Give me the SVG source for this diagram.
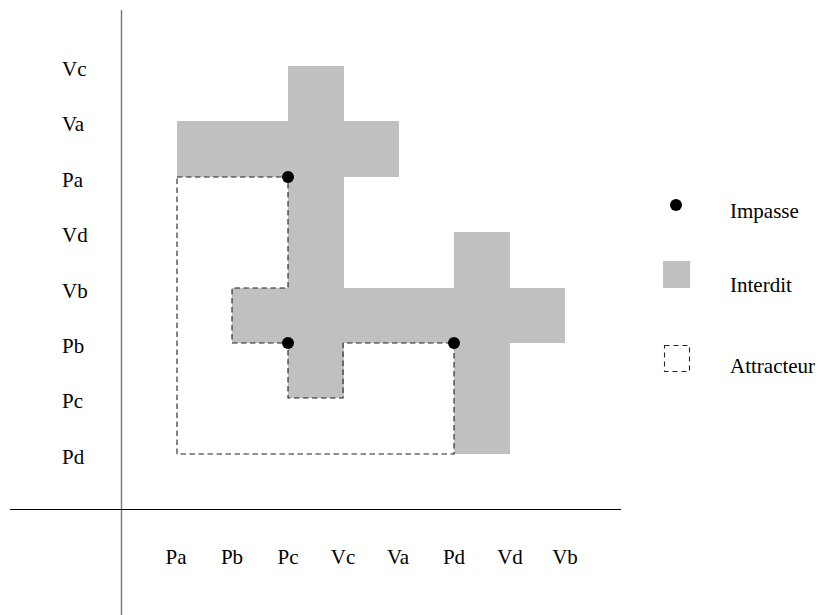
<svg xmlns="http://www.w3.org/2000/svg" width="826" height="615" viewBox="0 0 826 615">
<style>
text{font-family:"Liberation Serif","Times New Roman",serif;font-size:21px;fill:#000}
.gray{fill:#c0c0c0;stroke:none}
.dash{fill:none;stroke:#222;stroke-width:1.1;stroke-dasharray:5.5,3.5}
.dot{fill:#000}
.bl text{text-anchor:middle}
</style>
<rect width="826" height="615" fill="#fff"/>
<g id="axes">
<line x1="121.5" y1="10" x2="121.5" y2="615" stroke="#777" stroke-width="1.4"/>
<line x1="10" y1="509.5" x2="621" y2="509.5" stroke="#000" stroke-width="1.2"/>
</g>
<g id="forbidden">
<path class="gray" d="M288,66 H344 V121 H399 V177 H344 V288 H565 V343 H510 V454 H454 V343 H344 V398 H288 V343 H232 V288 H288 V177 H177 V121 H288 Z"/>
<path class="gray" d="M454,232 H510 V288 H454 Z"/>
</g>
<g id="attractor">
<path class="dash" d="M177,177 H288 V288 H232 V343 H288 V398 H343 V343 H454 V454 H177 Z"/>
</g>
<g id="impasses">
<circle class="dot" cx="288" cy="177" r="6"/>
<circle class="dot" cx="288" cy="343" r="6"/>
<circle class="dot" cx="454" cy="343" r="6"/>
</g>
<g id="left-labels">
<text x="62" y="76">Vc</text>
<text x="62" y="131">Va</text>
<text x="62" y="187">Pa</text>
<text x="62" y="242">Vd</text>
<text x="62" y="298">Vb</text>
<text x="62" y="353">Pb</text>
<text x="62" y="408">Pc</text>
<text x="62" y="464">Pd</text>
</g>
<g id="bottom-labels" class="bl">
<text x="176" y="564">Pa</text>
<text x="232" y="564">Pb</text>
<text x="288" y="564">Pc</text>
<text x="343" y="564">Vc</text>
<text x="398" y="564">Va</text>
<text x="454" y="564">Pd</text>
<text x="510" y="564">Vd</text>
<text x="565" y="564">Vb</text>
</g>
<g id="legend">
<circle class="dot" cx="676" cy="205" r="6"/>
<text x="730" y="218">Impasse</text>
<rect class="gray" x="663" y="261" width="27" height="27"/>
<text x="730" y="292">Interdit</text>
<rect class="dash" x="664.5" y="345.5" width="25" height="26" style="stroke-dasharray:5,4"/>
<text x="730" y="373">Attracteur</text>
</g>
</svg>
